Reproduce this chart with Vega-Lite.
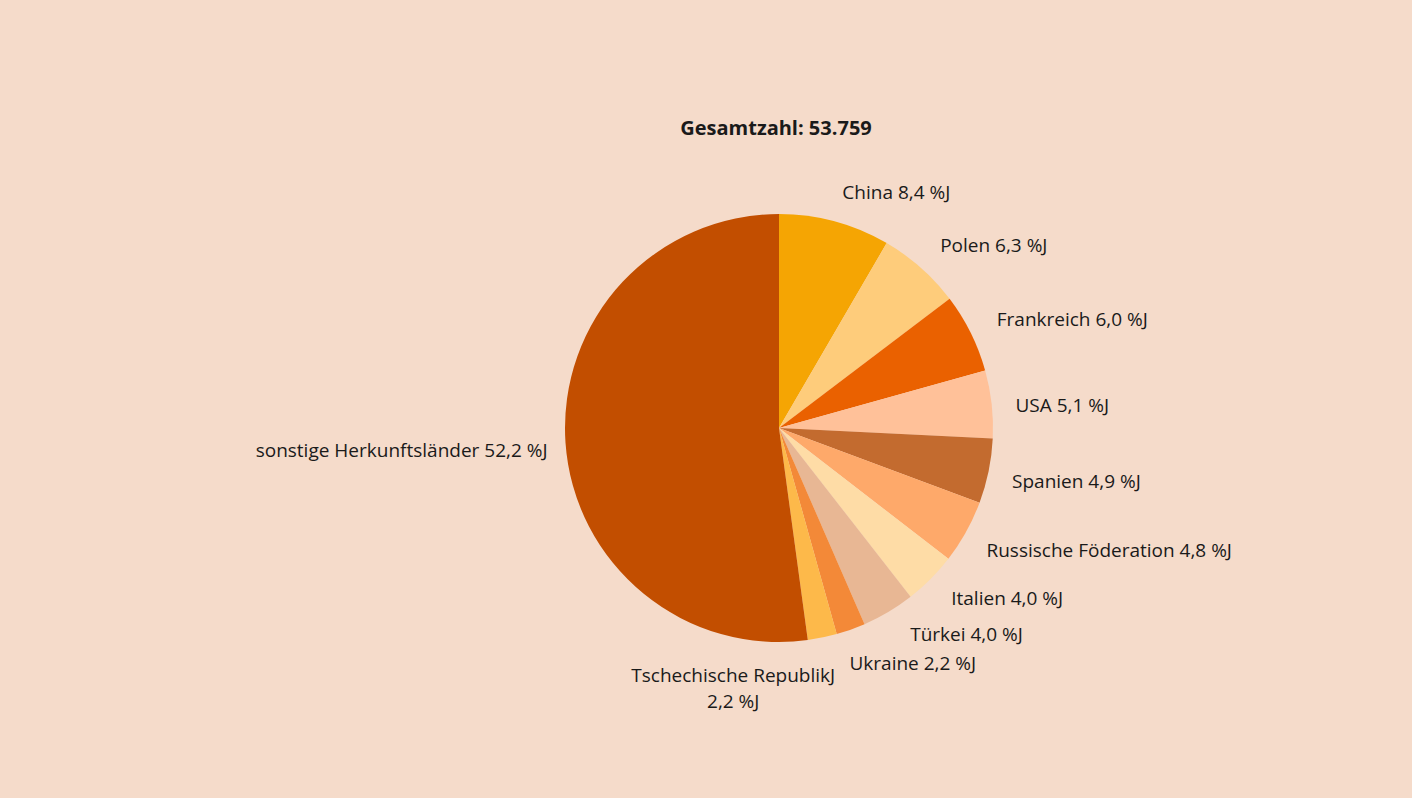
{
  "$schema": "https://vega.github.io/schema/vega-lite/v6.json",
  "width": 428,
  "height": 428,
  "autosize": {"type": "none"},
  "padding": {"left": 565, "top": 214, "right": 419, "bottom": 156},
  "background": "#F5DBCA",
  "config": {"view": {"stroke": null}, "font": "Open Sans"},
  "title": {"text": "Gesamtzahl: 53.759", "anchor": "middle", "fontSize": 20, "fontWeight": "bold", "font": "Open Sans", "color": "#1a1a1a", "offset": 43, "dx": -3},
  "data": {"values": [
    {"country": "China", "share": 8.4, "rank": 1, "label": "China 8,4 %J"},
    {"country": "Polen", "share": 6.3, "rank": 2, "label": "Polen 6,3 %J"},
    {"country": "Frankreich", "share": 6.0, "rank": 3, "label": "Frankreich 6,0 %J"},
    {"country": "USA", "share": 5.1, "rank": 4, "label": "USA 5,1 %J"},
    {"country": "Spanien", "share": 4.9, "rank": 5, "label": "Spanien 4,9 %J"},
    {"country": "Russische Föderation", "share": 4.8, "rank": 6, "label": "Russische Föderation 4,8 %J"},
    {"country": "Italien", "share": 4.0, "rank": 7, "label": "Italien 4,0 %J"},
    {"country": "Türkei", "share": 4.0, "rank": 8, "label": "Türkei 4,0 %J"},
    {"country": "Ukraine", "share": 2.2, "rank": 9, "label": "Ukraine 2,2 %J"},
    {"country": "Tschechische Republik", "share": 2.2, "rank": 10, "label": "Tschechische RepublikJ\n2,2 %J"},
    {"country": "sonstige Herkunftsländer", "share": 52.2, "rank": 11, "label": "sonstige Herkunftsländer 52,2 %J"}
  ]},
  "encoding": {
    "theta": {"field": "share", "type": "quantitative", "stack": true},
    "order": {"field": "rank", "type": "quantitative"}
  },
  "layer": [
    {
      "mark": {"type": "arc"},
      "encoding": {
        "color": {
          "field": "country", "type": "nominal", "legend": null,
          "scale": {
            "domain": ["China", "Polen", "Frankreich", "USA", "Spanien", "Russische Föderation", "Italien", "Türkei", "Ukraine", "Tschechische Republik", "sonstige Herkunftsländer"],
            "range": ["#F5A503", "#FECC7B", "#EA6100", "#FFC199", "#C36B2F", "#FEA96A", "#FEDCA6", "#E8B794", "#F38938", "#FDB94A", "#C24E00"]
          }
        }
      }
    },
    {
      "mark": {"type": "text", "radius": 243, "align": "left", "baseline": "middle", "fontSize": 19, "color": "#1a1a1a", "dy": 0},
      "encoding": {
        "text": {"condition": {"test": "datum.country === 'China' || datum.country === 'Polen' || datum.country === 'Frankreich' || datum.country === 'Italien'", "field": "label"}, "value": ""}
      }
    },
    {
      "mark": {"type": "text", "radius": 243, "align": "left", "baseline": "middle", "fontSize": 19, "color": "#1a1a1a", "dx": -5, "dy": 5},
      "encoding": {
        "text": {"condition": {"test": "datum.country === 'USA' || datum.country === 'Spanien' || datum.country === 'Russische Föderation'", "field": "label"}, "value": ""}
      }
    },
    {
      "mark": {"type": "text", "radius": 243, "align": "left", "baseline": "middle", "fontSize": 19, "color": "#1a1a1a", "dx": 7, "dy": -2},
      "encoding": {
        "text": {"condition": {"test": "datum.country === 'Türkei'", "field": "label"}, "value": ""}
      }
    },
    {
      "mark": {"type": "text", "radius": 243, "align": "left", "baseline": "middle", "fontSize": 19, "color": "#1a1a1a", "dx": -11, "dy": 7},
      "encoding": {
        "text": {"condition": {"test": "datum.country === 'Ukraine'", "field": "label"}, "value": ""}
      }
    },
    {
      "mark": {"type": "text", "radius": 240, "align": "right", "baseline": "middle", "fontSize": 19, "color": "#1a1a1a", "dx": 8, "dy": 7},
      "encoding": {
        "text": {"condition": {"test": "datum.country === 'sonstige Herkunftsländer'", "field": "label"}, "value": ""}
      }
    },
    {
      "mark": {"type": "text", "radius": 243, "align": "center", "baseline": "top", "fontSize": 19, "color": "#1a1a1a", "dx": -95, "dy": 1, "lineBreak": "\n", "lineHeight": 26},
      "encoding": {
        "text": {"condition": {"test": "datum.country === 'Tschechische Republik'", "field": "label"}, "value": ""}
      }
    }
  ]
}
